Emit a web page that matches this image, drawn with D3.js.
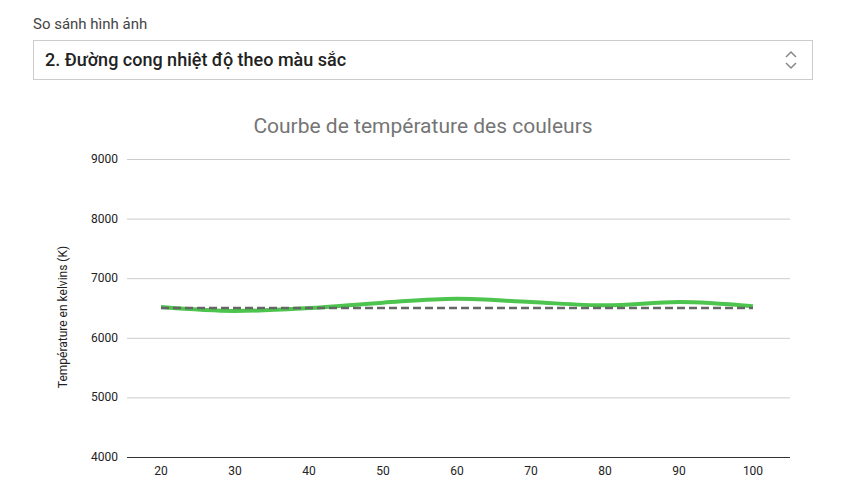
<!DOCTYPE html><html><head><meta charset="utf-8"><script src="https://cdn.jsdelivr.net/npm/d3@7"></script>
<style>body{margin:0;background:#fff;font-family:Roboto,Arial,sans-serif}</style></head><body>
<svg id="c" width="857" height="486"></svg>
<script>
const xValues=[20,30,40,50,60,70,80,90,100];
const measured=[6515,6450,6500,6590,6655,6600,6545,6600,6530];
const target=[6500,6500,6500,6500,6500,6500,6500,6500,6500];
const yTicks=[4000,5000,6000,7000,8000,9000];
const svg=d3.select("#c");
svg.append("text").attr("x",33).attr("y",29).attr("font-size",15).attr("fill","#444").text("So sánh hình ảnh");
svg.append("rect").attr("x",33.5).attr("y",40.5).attr("width",779).attr("height",39).attr("fill","#fff").attr("stroke","#ccc");
svg.append("text").attr("x",45).attr("y",66).attr("font-size",18).attr("font-weight",500).attr("fill","#222").text("2. Đường cong nhiệt độ theo màu sắc");
svg.append("path").attr("d","M786,57 l5,-5 l5,5 M786,63 l5,5 l5,-5").attr("fill","none").attr("stroke","#888").attr("stroke-width",1.5);
svg.append("text").attr("x",423).attr("y",133).attr("text-anchor","middle").attr("font-size",21).attr("fill","#757575").text("Courbe de température des couleurs");
const x=d3.scaleLinear().domain([20,100]).range([161,753]);
const y=d3.scaleLinear().domain([4000,9000]).range([457,159]);
const g=svg.append("g");
yTicks.forEach(t=>{
 g.append("line").attr("x1",127).attr("x2",790).attr("y1",y(t)+0.5).attr("y2",y(t)+0.5).attr("stroke",t===4000?"#333":"#ccc");
 g.append("text").attr("x",118).attr("y",y(t)+4).attr("text-anchor","end").attr("font-size",12).attr("fill","#222").text(t);
});
xValues.forEach(v=>g.append("text").attr("x",x(v)).attr("y",475).attr("text-anchor","middle").attr("font-size",12).attr("fill","#222").text(v));
svg.append("text").attr("transform","translate(67,317) rotate(-90)").attr("text-anchor","middle").attr("font-size",12).attr("fill","#222").text("Température en kelvins (K)");
const line=d3.line().x((d,i)=>x(xValues[i])).y(d=>y(d)).curve(d3.curveMonotoneX);
svg.append("path").attr("d",line(measured)).attr("fill","none").attr("stroke","#4dc44d").attr("stroke-width",4);
svg.append("path").attr("d",d3.line().x((d,i)=>x(xValues[i])).y(d=>y(d))(target)).attr("fill","none").attr("stroke","#666").attr("stroke-width",2.5).attr("stroke-dasharray","8,4");
</script></body></html>
